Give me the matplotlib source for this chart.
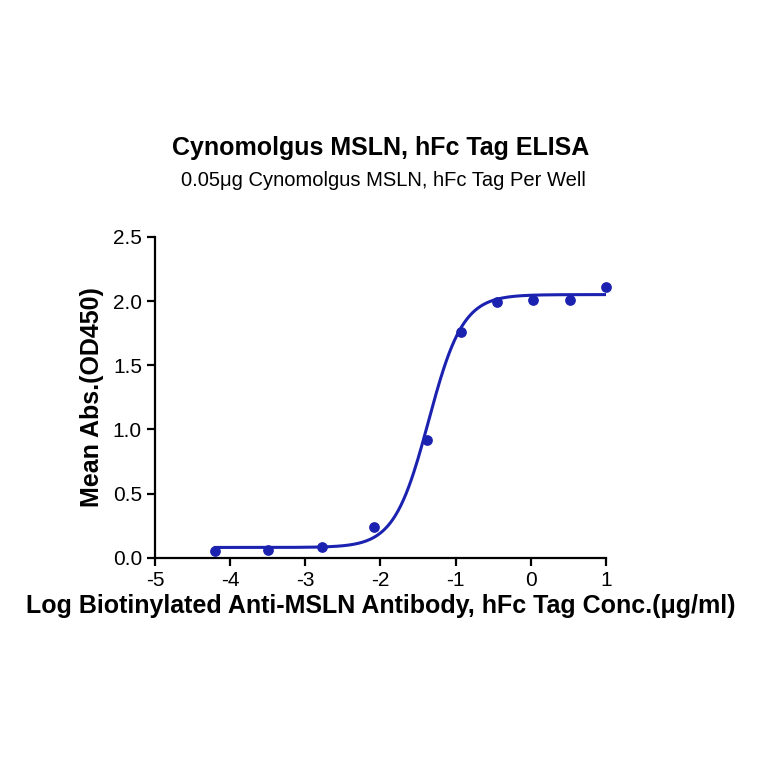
import numpy as np
import matplotlib
matplotlib.use("Agg")
import matplotlib.pyplot as plt

plt.rcParams['font.family'] = ['Liberation Sans', 'DejaVu Sans']
plt.rcParams['axes.unicode_minus'] = False

log_conc = [-4.2, -3.5, -2.78, -2.08, -1.38, -0.93, -0.45, 0.03, 0.52, 1.0]
od450 = [0.05, 0.06, 0.08, 0.24, 0.92, 1.76, 1.99, 2.01, 2.01, 2.11]
# 4PL fit: bottom, top, logEC50, hill slope
fit_params = [0.08, 2.05, -1.36, 1.9]

color = "#1c22b0"

fig = plt.figure(figsize=(7.64, 7.64), dpi=100)
ax = fig.add_axes([0.203, 0.270, 0.590, 0.420])

bottom, top, ec50, hill = fit_params
xs = np.linspace(min(log_conc), max(log_conc), 300)
ys = bottom + (top - bottom) / (1 + 10 ** ((ec50 - xs) * hill))
ax.plot(xs, ys, color=color, lw=2.2)
ax.scatter(log_conc, od450, color=color, s=45, zorder=3, clip_on=False)

ax.set_xlim(-5, 1)
ax.set_ylim(0, 2.5)
ax.set_xticks(range(-5, 2))
ax.set_yticks([0, 0.5, 1.0, 1.5, 2.0, 2.5])
ax.set_yticklabels(["0.0", "0.5", "1.0", "1.5", "2.0", "2.5"])
for s in ["top", "right"]:
    ax.spines[s].set_visible(False)
for s in ["left", "bottom"]:
    ax.spines[s].set_linewidth(1.6)
ax.tick_params(width=1.6, length=6, labelsize=15)

ax.set_xlabel("Log Biotinylated Anti-MSLN Antibody, hFc Tag Conc.(μg/ml)",
              fontsize=18, fontweight="bold", labelpad=3)
ax.set_ylabel("Mean Abs.(OD450)", fontsize=18, fontweight="bold", labelpad=6)
fig.text(0.498, 0.797, "Cynomolgus MSLN, hFc Tag ELISA", ha="center",
         fontsize=18, fontweight="bold")
fig.text(0.502, 0.757, "0.05μg Cynomolgus MSLN, hFc Tag Per Well", ha="center",
         fontsize=14.5)

fig.savefig("out.png", dpi=100, facecolor="white")
